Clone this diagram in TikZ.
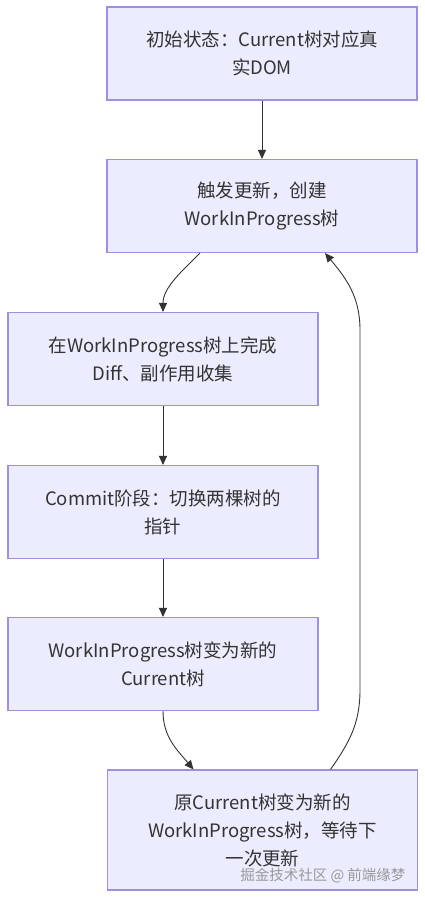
\documentclass[tikz,border=0pt]{standalone}
\usepackage{fontspec}
\setmainfont{Noto Sans CJK SC}
\usepackage{tikz}
\usetikzlibrary{arrows.meta,positioning}
\definecolor{boxfill}{HTML}{ECECFF}
\definecolor{boxline}{HTML}{9F8FE0}
\definecolor{ink}{HTML}{333333}
\tikzstyle{block}=[draw=boxline, fill=boxfill, rectangle, line width=1.1pt, minimum width=310pt, minimum height=93pt, align=center, text=ink, font=\fontsize{18.5}{28}\selectfont]
\tikzstyle{link}=[draw=ink, line width=0.9pt, ->]

\begin{document}
\begin{tikzpicture}[x=1pt, y=1pt, >={Triangle[length=9pt,width=8pt]}]
                        \useasboundingbox (0,0) rectangle (425,-898);
                        \node [block] (init) at (262,-53.5) {初始状态：Current树对应真\\实DOM};
                        \node [block] (trigger) at (262,-206) {触发更新，创建\\WorkInProgress树};
                        \node [block] (diff) at (163,-359) {在WorkInProgress树上完成\\Diff、副作用收集};
                        \node [block] (commit) at (163,-512) {Commit阶段：切换两棵树的\\指针};
                        \node [block] (swap) at (163,-664) {WorkInProgress树变为新的\\Current树};
                        \node [block, minimum height=120pt] (old) at (262.5,-830) {原Current树变为新的\\WorkInProgress树，等待下\\一次更新};
                        \coordinate (loopdown) at (360,-690);
                        \coordinate (loopup) at (360,-330);
                        \node [text=black!40, font=\fontsize{14.5}{16}\selectfont, anchor=east] (watermark) at (409,-876) {掘金技术社区 @ 前端缘梦};
                        \path[link] (init) -- (trigger);
                        \path[link] ([xshift=-62pt]trigger.south) to[out=-135, in=90, looseness=0.9] (diff.north);
                        \path[link] (diff) -- (commit);
                        \path[link] (commit) -- (swap);
                        \path[link] (swap.south) to[out=-90, in=130] ([xshift=-69pt]old.north);
                        \path[link] ([xshift=68pt]old.north) to[out=55, in=-90] (loopdown) -- (loopup) to[out=90, in=-50] ([xshift=63pt]trigger.south);
                    \end{tikzpicture}
\end{document}
